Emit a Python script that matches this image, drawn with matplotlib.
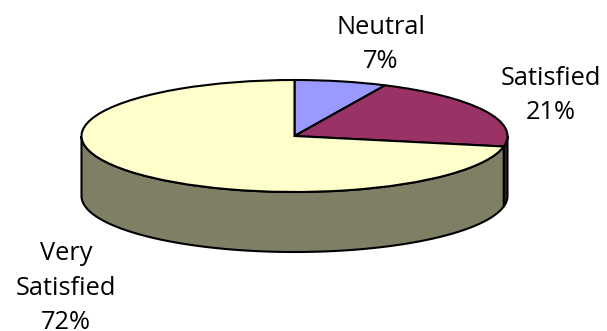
import numpy as np
import matplotlib
matplotlib.use('Agg')
import matplotlib.pyplot as plt

# Satisfaction survey results
categories = ['Neutral', 'Satisfied', 'Very\nSatisfied']
percents = [7, 21, 72]

top_colors = ['#9999FF', '#993366', '#FFFFCC']
side_colors = ['#4C4C80', '#4D1A33', '#7F7F66']

W, H = 607, 331
CX, CY = 294.5, 136   # pie centre in pixels
RX, RY = 213, 56      # ellipse radii in pixels
DEPTH = 60 / RY       # wall height, in units of the pie radius

fig = plt.figure(figsize=(W / 100, H / 100), dpi=100)
ax = fig.add_axes([0, 0, 1, 1])

# Walls of the pie, only the part of the rim facing the viewer
edges = np.cumsum([0] + percents) * 3.6
for i in range(len(percents)):
    start = max(edges[i], 90)
    end = min(edges[i + 1], 270)
    if start >= end:
        continue
    a = np.radians(np.linspace(start, end, 120))
    x = np.sin(a)
    y = np.cos(a)
    ax.fill(np.r_[x, x[::-1]], np.r_[y, y[::-1] - DEPTH],
            facecolor=side_colors[i], edgecolor='black', linewidth=1.5, zorder=1)

wedges, _ = ax.pie(percents, colors=top_colors, startangle=90, counterclock=False,
                   wedgeprops={'edgecolor': 'black', 'linewidth': 1.5, 'zorder': 2})

# pie resets the limits, so squash the circle afterwards
ax.set_aspect('auto')
ax.set_xlim(-CX / RX, (W - CX) / RX)
ax.set_ylim((CY - H) / RY, CY / RY)
ax.axis('off')

# centre x and last baseline y of each label
label_pos = [(381, 68), (551, 119), (66, 329)]
for name, pct, (px, py) in zip(categories, percents, label_pos):
    fig.text(px / W, 1 - py / H, f'{name}\n{pct}%', ha='center', va='baseline',
             multialignment='center', family='Open Sans', fontsize=18.3,
             linespacing=1.49, color='black')

plt.savefig('out.png', dpi=100)
